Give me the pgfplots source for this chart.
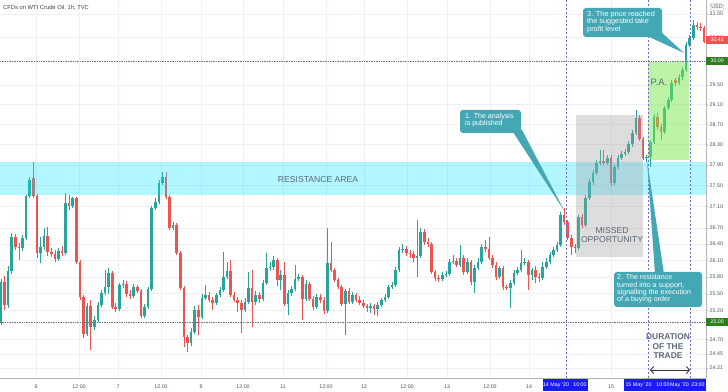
\documentclass[border=0pt]{standalone}
\usepackage{fontspec}
\setmainfont{Liberation Sans}
\usepackage{pgfplots}
\pgfplotsset{compat=1.18}
\usepackage{pgfplotstable}
\usetikzlibrary{arrows.meta}
\definecolor{cgreen}{HTML}{26A69A}
\definecolor{cred}{HTML}{EF5350}
\definecolor{callout}{HTML}{43A7B4}
\definecolor{gridc}{HTML}{EEF0F5}
\definecolor{axisc}{HTML}{B2B5BE}
\definecolor{lab}{HTML}{50535E}
\definecolor{band}{HTML}{00E5FF}
\definecolor{tvblue}{HTML}{1A1AFF}
\definecolor{pagreen}{HTML}{7CE84F}
\definecolor{boxgray}{HTML}{9E9E9E}
\definecolor{txtgray}{HTML}{5D6878}
\definecolor{vdash}{HTML}{6F6FD0}
\definecolor{hdot}{HTML}{6E7480}
\definecolor{lvlgreen}{HTML}{2F7D1F}

% green (rising) candles: index, open, high, low, close
\pgfplotstableread{
i o h l c
0 25.00 25.76 24.95 25.71
2 25.30 26.00 25.25 25.91
3 25.91 26.60 25.85 26.53
6 26.33 26.57 26.27 26.51
7 26.51 27.32 26.47 27.30
8 27.30 27.67 27.26 27.61
11 26.24 26.53 26.05 26.35
12 26.35 26.70 26.29 26.55
16 26.13 26.33 26.09 26.27
18 26.24 27.36 26.20 27.17
20 27.11 27.28 27.07 27.26
24 24.79 25.33 24.76 25.28
26 24.91 25.11 24.86 25.04
27 25.04 25.35 25.00 25.30
28 25.30 25.57 25.26 25.51
29 25.51 25.93 25.48 25.62
30 25.62 25.96 25.49 25.87
33 25.23 25.69 25.19 25.66
34 25.66 25.75 25.60 25.67
37 25.46 25.67 25.42 25.62
40 25.11 25.32 25.07 25.26
41 25.26 25.62 25.23 25.58
42 25.58 27.11 25.55 27.07
43 27.07 27.26 27.04 27.19
44 27.19 27.61 27.15 27.55
45 27.55 27.76 27.51 27.67
48 26.70 26.81 26.66 26.75
53 24.64 24.90 24.59 24.83
54 24.83 25.28 24.79 25.21
56 25.09 25.49 25.05 25.42
57 25.42 25.66 25.39 25.48
60 25.33 25.51 25.30 25.48
61 25.48 25.62 25.44 25.57
62 25.57 26.25 25.53 25.80
63 25.80 26.07 25.76 25.91
68 25.21 25.42 25.18 25.35
69 25.35 25.89 25.32 25.60
71 25.35 25.55 25.30 25.48
73 25.41 25.75 25.37 25.69
74 25.69 26.24 25.66 25.96
75 25.96 26.07 25.91 25.98
76 25.98 26.18 25.93 26.11
78 25.75 25.93 25.57 25.84
80 25.32 25.57 25.12 25.51
81 25.51 25.64 25.46 25.58
82 25.58 26.02 25.55 25.76
83 25.76 25.85 25.73 25.80
85 25.41 25.75 25.37 25.67
88 25.26 25.49 25.23 25.44
91 25.19 26.70 25.16 26.05
96 25.32 25.58 24.78 25.55
98 25.35 25.53 25.32 25.48
103 25.25 25.33 25.16 25.28
105 25.23 25.35 25.11 25.30
106 25.30 25.42 25.26 25.39
107 25.39 25.49 25.35 25.44
108 25.44 25.66 25.41 25.62
109 25.62 25.71 25.58 25.66
110 25.66 25.98 25.62 25.93
111 25.93 26.35 25.89 26.29
112 26.29 26.40 26.24 26.31
116 26.14 26.85 25.80 26.18
117 26.18 26.70 26.14 26.62
123 25.76 25.89 25.73 25.84
124 25.84 25.91 25.80 25.85
125 25.85 26.13 25.82 26.07
126 26.07 26.20 26.03 26.09
128 26.02 26.38 25.98 26.14
130 25.89 26.14 25.85 26.07
132 25.71 26.02 25.51 25.96
133 25.96 26.14 25.93 26.07
134 26.07 26.40 26.03 26.35
139 25.80 26.00 25.76 25.96
142 25.60 25.75 25.25 25.69
143 25.69 25.93 25.66 25.87
144 25.87 25.98 25.84 25.93
145 25.93 26.29 25.89 26.05
146 26.05 26.14 26.02 26.07
148 25.84 25.96 25.75 25.93
151 25.78 26.07 25.75 25.98
152 25.98 26.14 25.94 26.07
153 26.07 26.25 26.03 26.20
154 26.20 26.35 26.16 26.29
155 26.29 26.44 26.25 26.38
156 26.38 27.00 26.35 26.94
161 26.33 26.94 26.29 26.90
163 26.75 27.32 26.72 27.26
164 27.26 27.63 27.22 27.57
165 27.57 27.80 27.51 27.74
166 27.74 28.00 27.70 27.94
167 27.94 28.19 27.90 27.98
169 27.94 28.09 27.90 28.03
171 27.55 27.90 27.51 27.86
172 27.86 28.09 27.82 28.03
173 28.03 28.17 28.00 28.11
174 28.11 28.21 28.07 28.15
175 28.15 28.37 28.11 28.31
176 28.31 28.59 28.25 28.53
177 28.53 28.99 28.49 28.83
180 28.03 28.09 27.96 28.05
181 28.05 28.39 27.86 28.35
182 28.35 28.91 28.31 28.85
185 28.55 29.07 28.51 29.03
186 29.03 29.25 28.99 29.19
187 29.19 29.60 29.15 29.54
189 29.54 29.73 29.50 29.67
190 29.67 29.87 29.60 29.81
191 29.81 30.40 29.77 30.34
192 30.34 30.55 30.29 30.49
193 30.49 30.87 30.44 30.76
}\greentab

% red (falling) candles: index, open, high, low, close
\pgfplotstableread{
i o h l c
1 25.71 25.82 25.21 25.30
4 26.53 26.59 26.29 26.35
5 26.35 26.42 26.11 26.33
9 27.65 27.96 27.26 27.30
10 27.30 27.34 26.14 26.24
13 26.55 26.72 26.18 26.25
14 26.25 26.33 26.16 26.22
15 26.22 26.29 26.07 26.13
17 26.27 26.36 26.18 26.24
19 27.17 27.32 27.04 27.11
21 27.26 27.28 26.03 26.07
22 26.07 26.11 25.39 25.44
23 25.44 25.48 24.72 24.79
25 25.28 25.39 24.52 24.91
31 25.87 25.91 25.23 25.26
32 25.26 25.33 25.18 25.23
35 25.67 25.73 25.44 25.49
36 25.49 25.57 25.41 25.46
38 25.62 25.66 25.51 25.55
39 25.55 25.58 25.07 25.11
46 27.67 27.76 27.24 27.28
47 27.28 27.32 26.66 26.70
49 26.75 26.79 26.20 26.24
50 26.24 26.27 25.57 25.60
51 25.60 25.64 24.57 24.74
52 24.74 24.78 24.48 24.64
55 25.21 25.30 24.78 25.09
58 25.48 25.53 25.35 25.39
59 25.39 25.44 25.21 25.33
64 25.91 26.11 25.44 25.48
65 25.48 25.53 25.35 25.39
66 25.39 25.44 25.18 25.33
67 25.33 25.39 24.81 25.21
70 25.60 25.93 24.91 25.35
72 25.48 25.53 25.33 25.41
77 26.11 26.14 25.64 25.75
79 25.84 26.07 25.28 25.32
84 25.80 25.84 25.04 25.41
86 25.67 25.71 25.37 25.41
87 25.41 25.46 25.21 25.26
89 25.44 25.49 25.33 25.39
90 25.39 25.44 25.14 25.19
92 26.05 26.44 25.89 25.93
93 25.93 25.96 25.71 25.75
94 25.75 25.78 25.58 25.62
95 25.62 25.66 25.28 25.32
97 25.55 25.60 25.32 25.35
99 25.48 25.51 25.35 25.39
100 25.39 25.46 25.30 25.33
101 25.33 25.39 25.25 25.28
102 25.28 25.32 25.18 25.25
104 25.28 25.32 25.12 25.23
113 26.31 26.36 26.18 26.24
114 26.24 26.29 26.14 26.22
115 26.22 26.27 26.07 26.14
118 26.62 26.68 26.38 26.44
119 26.44 26.51 26.35 26.40
120 26.40 26.44 25.85 25.89
121 25.89 25.93 25.73 25.78
122 25.78 25.84 25.71 25.76
127 26.09 26.14 25.98 26.02
129 26.14 26.20 25.84 25.89
131 26.07 26.11 25.66 25.71
135 26.35 26.47 26.25 26.31
136 26.31 26.53 26.11 26.14
137 26.14 26.20 25.96 26.02
138 26.02 26.07 25.75 25.80
140 25.96 26.00 25.57 25.62
141 25.62 25.66 25.57 25.60
147 26.07 26.11 25.57 25.84
149 25.93 26.00 25.69 25.80
150 25.80 25.87 25.71 25.78
157 26.94 27.07 26.75 26.81
158 26.81 26.85 26.47 26.51
159 26.51 26.57 26.20 26.35
160 26.35 26.40 26.24 26.33
162 26.90 26.96 26.70 26.75
168 27.98 28.19 27.90 27.94
170 28.03 28.09 27.49 27.55
178 28.83 28.89 28.37 28.41
179 28.41 28.45 28.00 28.03
183 28.85 28.93 28.59 28.65
184 28.65 28.71 28.39 28.55
188 29.60 29.65 29.48 29.54
194 30.76 30.83 30.66 30.72
195 30.72 30.80 30.63 30.70
196 30.70 30.74 30.38 30.41
}\redtab

\begin{document}
\begin{tikzpicture}
\useasboundingbox (0pt,0pt) rectangle (728pt,391pt);
\fill[white] (0pt,0pt) rectangle (728pt,391pt);
% price scale is logarithmic: the axis carries ln(price)
\begin{axis}[
  at={(0pt,13pt)}, anchor=south west,
  scale only axis, width=706pt, height=378pt,
  xmin=-0.279, xmax=196.54,
  ymin=3.17985, ymax=3.44377,
  axis x line*=bottom, axis y line*=right,
  axis line style={draw=axisc, line width=0.6pt},
  xtick={9.76,21.75,32.62,44.61,55.76,67.47,78.62,90.60,101.20,113.19,124.34,136.33,147.20,170.06},
  xticklabels={6,12:00,7,12:00,8,12:00,11,12:00,12,12:00,13,12:00,14,15},
  ytick={3.433987,3.417727,3.401197,3.384390,3.370738,3.356897,3.342862,3.328627,3.314186,3.299534,3.284664,3.273364,3.261935,3.250374,3.238678,3.226844,3.218876,3.206803,3.196630,3.186766},
  yticklabels={31.00,30.50,30.00,29.50,29.10,28.70,28.30,27.90,27.50,27.10,26.70,26.40,26.10,25.80,25.50,25.20,25.00,24.70,24.45,24.21},
  grid=major, major grid style={draw=gridc, line width=0.5pt},
  xtick style={draw=none},
  ytick style={draw=axisc, line width=0.4pt},
  major tick length=2pt, tick align=outside,
  xticklabel style={font=\fontsize{5.3}{6}\selectfont, text=lab, anchor=center, yshift=-7pt},
  yticklabel style={font=\fontsize{5.3}{6}\selectfont, text=lab, anchor=west, inner sep=0pt, xshift=1.5pt},
]
% wicks
\addplot[draw=none, mark=none, forget plot,
  error bars/.cd, y dir=plus, y explicit, error mark=none,
  error bar style={draw=cgreen, line width=0.6pt}]
  table[x=i, y expr={ln(\thisrow{l})}, y error expr={ln(\thisrow{h})-ln(\thisrow{l})}] {\greentab};
\addplot[draw=none, mark=none, forget plot,
  error bars/.cd, y dir=plus, y explicit, error mark=none,
  error bar style={draw=cred, line width=0.6pt}]
  table[x=i, y expr={ln(\thisrow{l})}, y error expr={ln(\thisrow{h})-ln(\thisrow{l})}] {\redtab};
% bodies
\addplot[draw=none, mark=none, forget plot,
  error bars/.cd, y dir=plus, y explicit, error mark=none,
  error bar style={draw=cgreen, line width=2.6pt}]
  table[x=i, y expr={ln(\thisrow{o})}, y error expr={max(ln(\thisrow{c})-ln(\thisrow{o}),0.0005)}] {\greentab};
\addplot[draw=none, mark=none, forget plot,
  error bars/.cd, y dir=plus, y explicit, error mark=none,
  error bar style={draw=cred, line width=2.6pt}]
  table[x=i, y expr={ln(\thisrow{c})}, y error expr={max(ln(\thisrow{o})-ln(\thisrow{c}),0.0005)}] {\redtab};
\end{axis}

\begin{scope}[x=1pt,y=1pt]
% resistance band and annotations
\fill[band, opacity=0.3] (0,196) rectangle (706,229);
\node[font=\fontsize{8.6}{9}\selectfont, text=txtgray] at (318,211) {RESISTANCE AREA};
\draw[hdot, densely dotted, line width=0.7pt] (0,330) -- (706,330);
\draw[hdot, densely dotted, line width=0.7pt] (0,69) -- (706,69);
\fill[boxgray, opacity=0.35] (576,134) rectangle (643,276);
\node[font=\fontsize{8.6}{9}\selectfont, text=txtgray] at (612,160) {MISSED};
\node[font=\fontsize{8.6}{9}\selectfont, text=txtgray] at (612,151) {OPPORTUNITY};
\fill[pagreen, opacity=0.5] (648,231) rectangle (689,329);
\node[font=\fontsize{9.4}{10}\selectfont, text=txtgray] at (659,309) {P.A.};
\foreach \xx in {566,648,690} {
  \draw[vdash, line width=0.5pt, dash pattern=on 2pt off 2pt] (\xx,13) -- (\xx,391);
}
% callout 1
\fill[callout] (513,259) -- (522,261) -- (565,179) -- cycle;
\fill[callout, rounded corners=3pt] (460,258) rectangle (521,281);
\node[anchor=west, align=left, text=white, inner sep=0pt, font=\fontsize{7.1}{7.2}\selectfont] at (465,270.5) {1. The analysis\\is published};
% callout 2
\fill[callout] (655,117) -- (664,117) -- (647,231) -- cycle;
\fill[callout, rounded corners=3pt] (614,84) rectangle (702,119);
\node[anchor=west, align=left, text=white, inner sep=0pt, font=\fontsize{7.1}{7.4}\selectfont] at (617,102) {2. The resistance\\turned into a support,\\signalling the execution\\of a buying order};
% callout 3
\fill[callout] (645,356) -- (660,360) -- (684,338) -- cycle;
\fill[callout, rounded corners=3pt] (583,354) rectangle (662,383);
\node[anchor=west, align=left, text=white, inner sep=0pt, font=\fontsize{7.3}{7.2}\selectfont] at (587,369) {3. The price reached\\the suggested take\\profit level};
% duration
\node[font=\bfseries\fontsize{8.4}{9}\selectfont, text=txtgray] at (668,54) {DURATION};
\node[font=\bfseries\fontsize{8.4}{9}\selectfont, text=txtgray] at (668,44.5) {OF THE};
\node[font=\bfseries\fontsize{8.4}{9}\selectfont, text=txtgray] at (668,35) {TRADE};
\draw[{Straight Barb[length=3pt,width=7pt]}-{Straight Barb[length=3pt,width=7pt]}, line width=0.9pt, black!80] (650,21) -- (690,21);
% title
\node[anchor=west, inner sep=0pt, font=\fontsize{5.8}{6}\selectfont, text=black!75] at (3,383) {CFDs on WTI Crude Oil, 1h, TVC};
% price labels
\node[anchor=west, fill=cred, text=white, inner sep=0.8pt, minimum width=22pt, minimum height=8pt, font=\fontsize{5.3}{6}\selectfont] at (706,351) {30.41};
\node[anchor=west, fill=lvlgreen, text=white, inner sep=0.8pt, minimum width=22pt, minimum height=8pt, font=\fontsize{5.3}{6}\selectfont] at (706,330) {30.00};
\node[anchor=west, fill=lvlgreen, text=white, inner sep=0.8pt, minimum width=22pt, minimum height=8pt, font=\fontsize{5.3}{6}\selectfont] at (706,69) {25.00};
\node[draw=axisc, rounded corners=1pt, inner sep=1.2pt, font=\fontsize{5.3}{6}\selectfont, text=lab] at (717,384) {USD};
% date boxes
\fill[tvblue] (543,0) rectangle (588,12);
\node[text=white, font=\fontsize{5.3}{6}\selectfont, inner sep=0pt] at (556,6) {14 May '20};
\node[text=white, font=\fontsize{5.3}{6}\selectfont, inner sep=0pt] at (580,6) {10:00};
\fill[tvblue] (624,0) rectangle (706,12);
\node[text=white, font=\fontsize{5.3}{6}\selectfont, inner sep=0pt] at (638.5,6) {15 May '20};
\node[text=white, font=\fontsize{5.3}{6}\selectfont, inner sep=0pt] at (663,6) {10:00};
\node[text=white, font=\fontsize{5.3}{6}\selectfont, inner sep=0pt] at (679.5,6) {May '20};
\node[text=white, font=\fontsize{5.3}{6}\selectfont, inner sep=0pt] at (698,6) {23:00};
\end{scope}
\end{tikzpicture}
\end{document}
